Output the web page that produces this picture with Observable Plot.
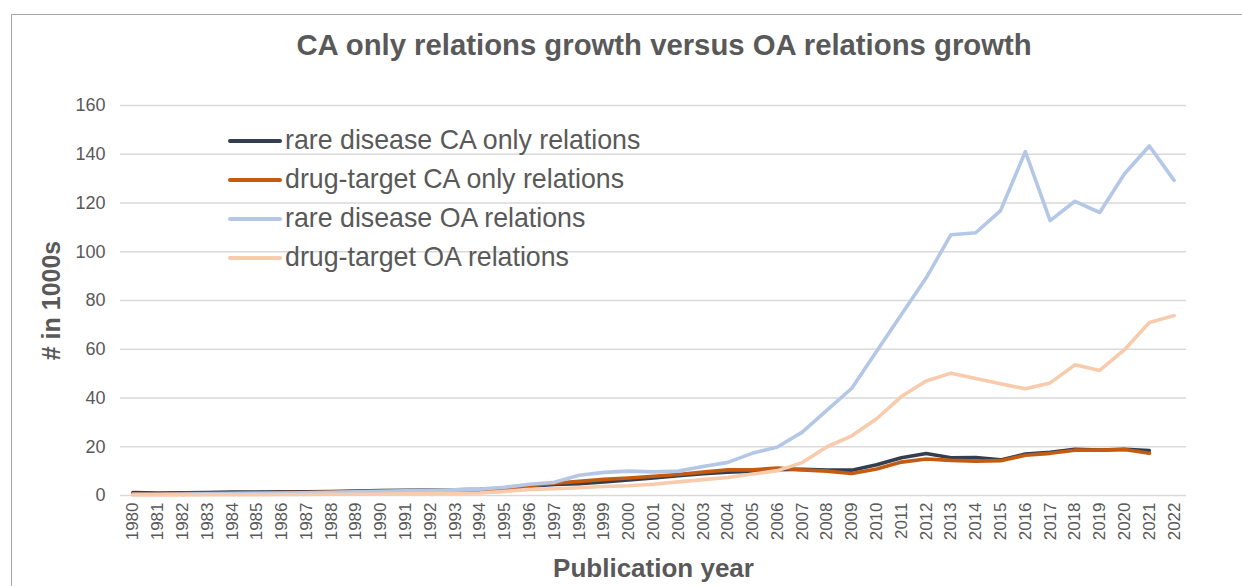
<!DOCTYPE html>
<html>
<head>
<meta charset="utf-8">
<script src="https://cdn.jsdelivr.net/npm/d3@7"></script>
<script src="https://cdn.jsdelivr.net/npm/@observablehq/plot@0.6"></script>
<style>
  body { margin: 0; background: #fff; font-family: "Liberation Sans", Arial, sans-serif; }
  #wrap { position: relative; width: 1242px; height: 586px; overflow: hidden; background: #fff; }
  #border { position: absolute; left: 11px; top: 14px; width: 1400px; height: 800px; border-left: 1px solid #A6A6A6; border-top: 1px solid #A6A6A6; }
  #title { position: absolute; top: 28px; left: 0; width: 1328px; text-align: center; font-weight: bold; font-size: 29.3px; line-height: 33px; color: #595959; }
  #chart { position: absolute; top: 80px; left: 0; }
  #legend { position: absolute; left: 228px; top: 121px; }
  .row { height: 39px; display: flex; align-items: center; font-size: 26.75px; color: #595959; white-space: nowrap; }
  .sw { width: 54px; height: 4px; margin-right: 3px; border-radius: 2px; }
</style>
</head>
<body>
<div id="wrap">
  <div id="border"></div>
  <div id="title"></div>
  <div id="chart"></div>
  <div id="legend"></div>
</div>
<script>
const titleText = "CA only relations growth versus OA relations growth";
const yLabel = "# in 1000s";
const xLabel = "Publication year";

const years = [1980,1981,1982,1983,1984,1985,1986,1987,1988,1989,1990,1991,1992,1993,1994,1995,1996,1997,1998,1999,2000,2001,2002,2003,2004,2005,2006,2007,2008,2009,2010,2011,2012,2013,2014,2015,2016,2017,2018,2019,2020,2021,2022];
const yTicks = [0,20,40,60,80,100,120,140,160];

const seriesNames = ["rare disease CA only relations", "drug-target CA only relations", "rare disease OA relations", "drug-target OA relations"];
const seriesColors = ["#333F50", "#C55A11", "#B4C7E7", "#F8CBAD"];

const rareCA = [1.2,1.0,1.1,1.2,1.4,1.4,1.5,1.5,1.6,1.8,2.0,2.1,2.2,2.3,2.5,3.0,3.8,4.5,4.8,5.6,6.4,7.2,8.1,8.9,9.6,10.0,10.6,10.8,10.4,10.4,12.6,15.5,17.2,15.5,15.6,14.6,17.0,17.7,19.0,18.6,19.0,18.4,null];
const drugCA = [0.6,0.6,0.8,0.9,1.0,1.1,1.2,1.2,1.4,1.6,1.7,1.8,2.0,2.1,2.3,2.8,4.0,5.0,5.8,6.6,7.2,7.9,8.6,9.6,10.5,10.5,11.3,10.5,10.0,9.0,10.9,13.7,15.0,14.4,14.1,14.3,16.5,17.3,18.6,18.6,18.9,17.3,null];
const rareOA = [0.5,0.5,0.6,0.7,0.8,0.9,1.0,1.1,1.3,1.5,1.7,1.9,2.1,2.3,2.6,3.4,4.6,5.4,8.3,9.5,10.0,9.7,10.0,11.9,13.6,17.4,19.9,26.0,35.0,44.0,59.2,74.3,89.3,107.0,107.8,116.9,141.1,112.8,120.7,116.1,132.0,143.4,129.3];
const drugOA = [0.2,0.2,0.2,0.3,0.3,0.3,0.4,0.4,0.5,0.5,0.6,0.7,0.8,0.9,1.0,1.7,2.5,2.8,3.2,3.7,4.0,4.6,5.6,6.5,7.4,8.8,10.2,13.5,20.0,24.5,31.5,40.6,47.0,50.2,48.0,45.8,43.8,46.2,53.6,51.3,59.8,71.0,73.8];

const seriesValues = [rareCA, drugCA, rareOA, drugOA];

document.getElementById("title").textContent = titleText;

const lineMarks = seriesValues.map((vals, k) => {
  const rows = [];
  years.forEach((yr, i) => { if (vals[i] != null) rows.push({year: yr, value: vals[i]}); });
  return Plot.line(rows, {x: "year", y: "value", stroke: seriesColors[k], strokeWidth: 3.6, strokeLinejoin: "round", strokeLinecap: "round"});
});

const chart = Plot.plot({
  width: 1242,
  height: 506,
  marginTop: 25,
  marginBottom: 91,
  marginLeft: 120,
  marginRight: 56,
  style: {fontFamily: "'Liberation Sans', Arial, sans-serif", color: "#595959", background: "transparent"},
  x: {type: "point", domain: years, padding: 0.5},
  y: {domain: [0, 160]},
  marks: [
    Plot.gridY(yTicks, {stroke: "#D9D9D9", strokeOpacity: 1, strokeWidth: 1.5}),
    Plot.axisY(yTicks, {tickSize: 0, tickPadding: 15, fontSize: 18, label: null}),
    Plot.axisX({tickSize: 0, tickRotate: -90, tickPadding: 7, fontSize: 17, label: null, tickFormat: d => String(d)}),
    Plot.text([yLabel], {frameAnchor: "left", dx: -69, rotate: -90, textAnchor: "middle", lineAnchor: "middle", fontSize: 25, fontWeight: "bold", text: d => d}),
    Plot.text([xLabel], {frameAnchor: "bottom", dy: 73, textAnchor: "middle", lineAnchor: "middle", fontSize: 26, fontWeight: "bold", text: d => d}),
    ...lineMarks
  ]
});
document.getElementById("chart").appendChild(chart);

const legend = document.getElementById("legend");
seriesNames.forEach((name, k) => {
  const row = document.createElement("div");
  row.className = "row";
  const sw = document.createElement("div");
  sw.className = "sw";
  sw.style.background = seriesColors[k];
  const t = document.createElement("span");
  t.textContent = name;
  row.appendChild(sw);
  row.appendChild(t);
  legend.appendChild(row);
});
</script>
</body>
</html>
